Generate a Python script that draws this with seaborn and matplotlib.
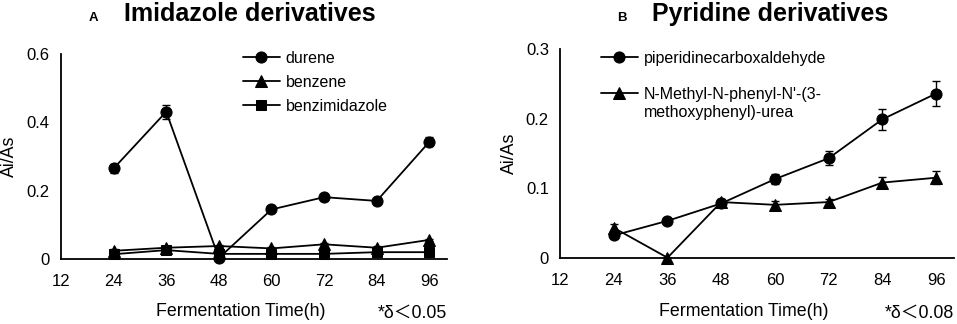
import matplotlib
matplotlib.use('Agg')
import matplotlib.pyplot as plt
import seaborn as sns
import pandas as pd
from matplotlib.lines import Line2D

# Data
hours = [24, 36, 48, 60, 72, 84, 96]
time_ticks = [12, 24, 36, 48, 60, 72, 84, 96]

durene = [0.265, 0.431, 0.003, 0.145, 0.181, 0.170, 0.343]
durene_err = [0.012, 0.020, 0.004, 0.005, 0.005, 0.005, 0.013]
benzene = [0.024, 0.033, 0.038, 0.031, 0.043, 0.033, 0.056]
benzene_err = [0.004, 0.004, 0.004, 0.004, 0.004, 0.004, 0.004]
benzimidazole = [0.014, 0.026, 0.015, 0.015, 0.015, 0.020, 0.020]
benzimidazole_err = [0.003, 0.003, 0.003, 0.003, 0.003, 0.003, 0.003]

piperidine = [0.032, 0.053, 0.078, 0.113, 0.143, 0.199, 0.236]
piperidine_err = [0.003, 0.003, 0.005, 0.007, 0.010, 0.015, 0.018]
urea = [0.043, 0.000, 0.080, 0.076, 0.080, 0.108, 0.115]
urea_err = [0.005, 0.000, 0.005, 0.005, 0.005, 0.008, 0.009]

sns.set_theme(style='white')
plt.rcParams['font.family'] = ['Liberation Sans', 'Noto Sans CJK SC', 'DejaVu Sans']
plt.rcParams['font.size'] = 12
plt.rcParams['text.color'] = 'black'
plt.rcParams['axes.labelcolor'] = 'black'
plt.rcParams['xtick.color'] = 'black'
plt.rcParams['ytick.color'] = 'black'

fig = plt.figure(figsize=(9.57, 3.24), dpi=100)
ax1 = fig.add_axes([0.0637, 0.2006, 0.4033, 0.6327])
ax2 = fig.add_axes([0.5852, 0.2046, 0.4117, 0.6441])


def draw_series(ax, y, err, marker, ms, label):
    df = pd.DataFrame({'time': hours, 'value': y})
    sns.lineplot(data=df, x='time', y='value', ax=ax, color='black',
                 marker=marker, markersize=ms, markeredgecolor='black',
                 linewidth=1.3, label=label, clip_on=False, zorder=3)
    ax.errorbar(hours, y, yerr=err, fmt='none', ecolor='black',
                elinewidth=1, capsize=3, capthick=1, zorder=2)


def style_axes(ax, ymax, yticks, ylabels, note, label_x):
    ax.set_xlim(12, 100)
    ax.set_ylim(0, ymax)
    ax.set_xticks(time_ticks)
    ax.set_xticklabels([str(t) for t in time_ticks])
    ax.set_yticks(yticks)
    ax.set_yticklabels(ylabels)
    ax.tick_params(axis='x', length=0, pad=11, labelsize=12)
    ax.tick_params(axis='y', length=0, pad=8, labelsize=12)
    for side in ['top', 'right']:
        ax.spines[side].set_visible(False)
    for side in ['left', 'bottom']:
        ax.spines[side].set_color('black')
        ax.spines[side].set_linewidth(1.3)
    ax.set_ylabel('Ai/As', fontsize=12.75)
    ax.yaxis.set_label_coords(label_x, 0.5)
    ax.set_xlabel('Fermentation Time(h)', fontsize=12.75)
    ax.xaxis.set_label_coords(0.466, -0.215)
    ax.text(1.0, -0.287, note, transform=ax.transAxes, ha='right',
            va='baseline', fontsize=12.75)


# Panel A
draw_series(ax1, durene, durene_err, 'o', 8, 'durene')
draw_series(ax1, benzene, benzene_err, '^', 8, 'benzene')
draw_series(ax1, benzimidazole, benzimidazole_err, 's', 7, 'benzimidazole')
style_axes(ax1, 0.6, [0, 0.2, 0.4, 0.6], ['0', '0.2', '0.4', '0.6'],
           '*δ＜0.05', -0.111)
h, l = ax1.get_legend_handles_labels()
ax1.legend(h, l, loc='upper left', bbox_to_anchor=(0.4715, 1.0144),
           frameon=False, borderpad=0, borderaxespad=0, handlelength=2.3,
           handletextpad=0.36, labelspacing=0.55, fontsize=11.5)

# Panel B
draw_series(ax2, piperidine, piperidine_err, 'o', 8, 'piperidinecarboxaldehyde')
draw_series(ax2, urea, urea_err, '^', 8, 'urea')
style_axes(ax2, 0.3, [0, 0.1, 0.2, 0.3], ['0', '0.1', '0.2', '0.3'],
           '*δ＜0.08', -0.107)
h, l = ax2.get_legend_handles_labels()
blank = Line2D([], [], color='none')
ax2.legend([h[0], blank, h[1], blank],
           ['piperidinecarboxaldehyde', '', "N-Methyl-N-phenyl-N'-(3-",
            'methoxyphenyl)-urea'],
           loc='upper left', bbox_to_anchor=(0.104, 0.9904),
           frameon=False, borderpad=0, borderaxespad=0, handlelength=2.3,
           handletextpad=0.36, labelspacing=0.18, fontsize=11.5)

# Panel titles
fig.text(93 / 957, 1 - 20.7 / 324, 'A', fontsize=9.5, fontweight='bold',
         ha='center', va='baseline')
fig.text(124 / 957, 1 - 20.7 / 324, 'Imidazole derivatives', fontsize=18,
         fontweight='bold', ha='left', va='baseline')
fig.text(622 / 957, 1 - 20.7 / 324, 'B', fontsize=9.5, fontweight='bold',
         ha='center', va='baseline')
fig.text(652 / 957, 1 - 20.7 / 324, 'Pyridine derivatives', fontsize=18,
         fontweight='bold', ha='left', va='baseline')

fig.savefig('out.png', dpi=100)
